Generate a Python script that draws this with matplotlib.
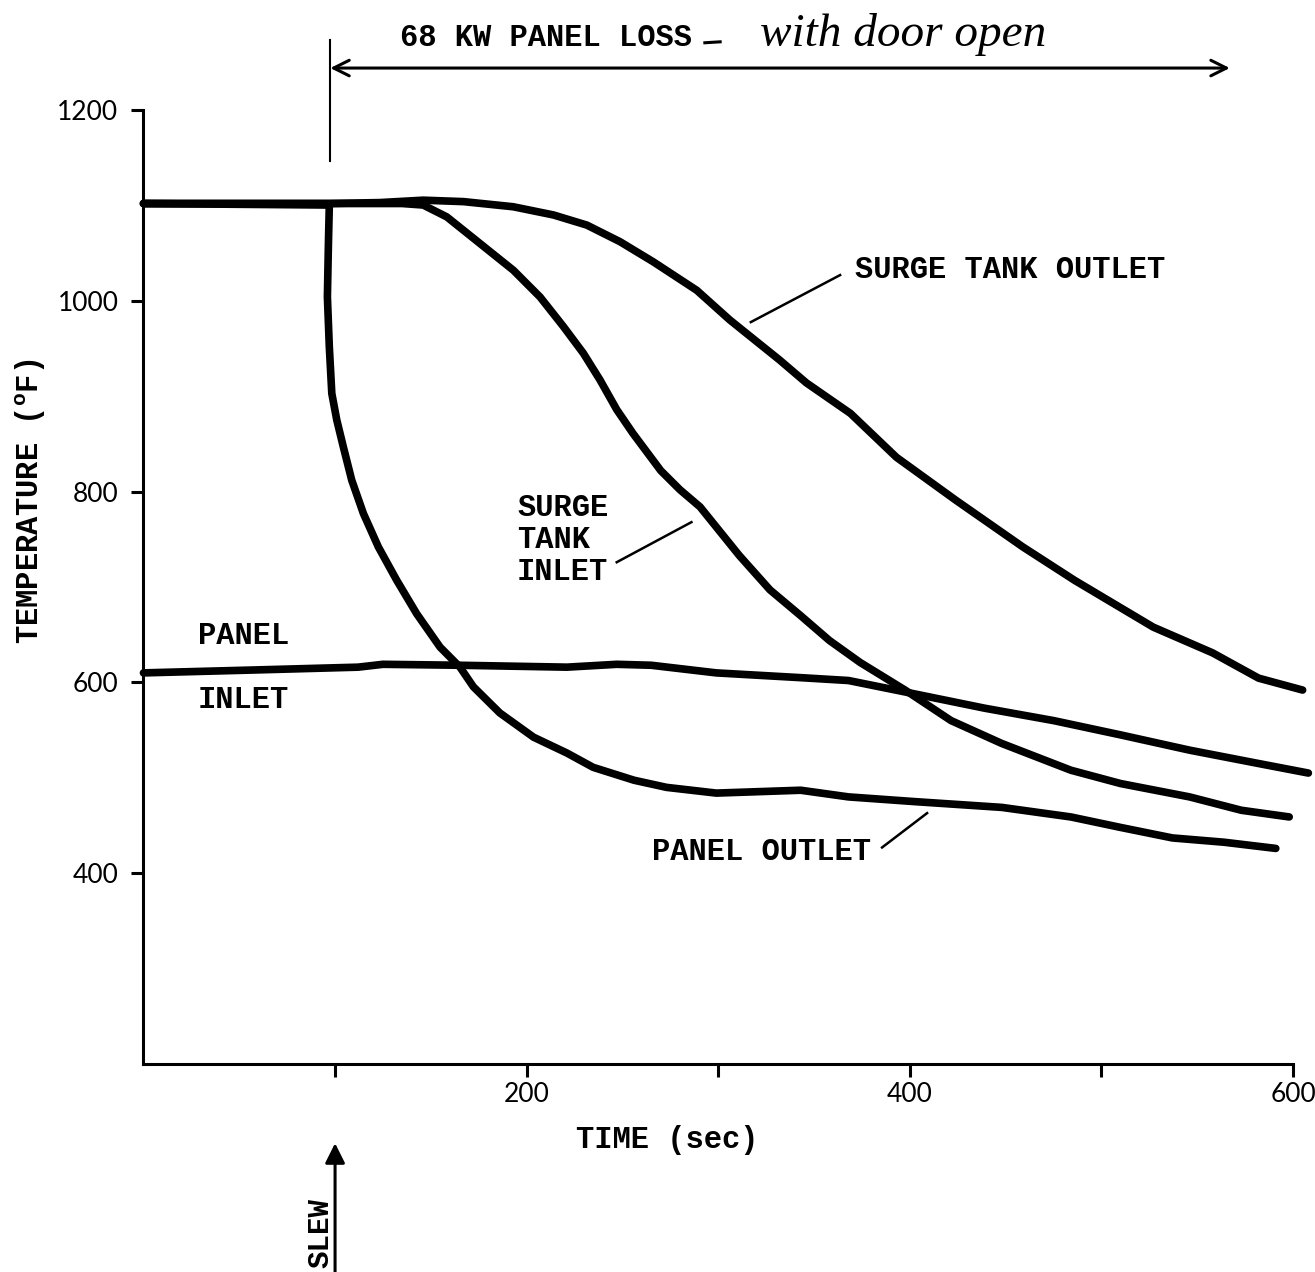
import matplotlib
matplotlib.use("Agg")
import matplotlib.pyplot as plt

# ---- data: temperatures (deg F) versus time (sec) ----
sto_t = [0, 97, 123.5, 146, 167, 193, 214, 231.4, 248.7, 266, 288.8, 306, 332, 346, 369, 393,
         424, 459, 486, 527, 558, 582, 605]
sto_T = [1102, 1102, 1103, 1105.5, 1104, 1098.6, 1090, 1079.4, 1062, 1041, 1011, 980, 938, 914, 882, 836,
         791, 742, 707, 658, 631, 604.5, 592]

sti_t = [0, 97, 135, 146, 158.3, 175.7, 193.1, 207, 219.2, 229.6, 238.3, 247, 255.5, 270, 280, 290.5,
         311, 327, 343, 358, 374, 397.5, 421.5, 448, 484, 510, 546, 573, 598]
sti_T = [1102, 1102, 1102, 1100.4, 1088, 1060, 1032, 1004, 973, 945, 917, 886, 861, 822, 802, 784,
         733, 697, 670, 644, 621, 592, 560, 536, 508, 494, 480, 466, 459]

po_t = [0, 97, 96.5, 96, 97, 98.3, 100.9, 104.3, 108.7, 114.8, 122.6, 132.2, 142.6, 154.8, 165.2,
        172.2, 186, 203.6, 221, 234.7, 256, 273, 299, 343, 368, 403, 448, 484, 510, 537, 564, 591]
po_T = [1102, 1100.4, 1056.7, 1004.3, 951.8, 902.9, 875, 847, 812, 777, 742, 707, 672, 637, 616,
        595.4, 568, 542.6, 526, 511, 497.5, 490, 484, 487, 480, 475, 469, 459, 448, 437, 432.5, 426]

pi_t = [0, 57, 112, 125, 165, 221, 247, 265, 299, 343, 368, 400, 439, 475, 510, 546, 582, 608]
pi_T = [610, 613, 616, 619, 618, 616, 619, 618, 610, 605, 602, 589, 573, 560, 545, 529, 515, 505]

x_ticks = [100, 200, 300, 400, 500, 600]
x_labels = ["", "200", "", "400", "", "600"]
y_ticks = [400, 600, 800, 1000, 1200]
y_labels = ["400", "600", "800", "1000", "1200"]

TYPE = "Liberation Mono"
plt.rcParams["mathtext.fontset"] = "custom"
plt.rcParams["mathtext.rm"] = TYPE
plt.rcParams["mathtext.bf"] = TYPE + ":bold"

fig = plt.figure(figsize=(13.15, 12.72), dpi=100)
ax = fig.add_axes([0.1091, 0.1635, 0.8742, 0.75])
ax.set_xlim(0, 600)
ax.set_ylim(200, 1200)
for s in ("top", "right"):
    ax.spines[s].set_visible(False)
for s in ("left", "bottom"):
    ax.spines[s].set_linewidth(2.2)

ax.set_xticks(x_ticks)
ax.set_xticklabels(x_labels)
ax.set_yticks(y_ticks)
ax.set_yticklabels(y_labels)
ax.tick_params(axis="both", direction="out", length=9, width=2.2, labelsize=19)
ax.tick_params(axis="y", pad=9)
ax.tick_params(axis="x", pad=4)
for lab in ax.get_xticklabels() + ax.get_yticklabels():
    lab.set_fontfamily("Lato")

line_kw = dict(color="black", lw=5.5, solid_capstyle="round", solid_joinstyle="round", clip_on=False)
ax.plot(sto_t, sto_T, **line_kw)
ax.plot(sti_t, sti_T, **line_kw)
ax.plot(po_t, po_T, **line_kw)
ax.plot(pi_t, pi_T, **line_kw)

txt_kw = dict(family=TYPE, fontsize=22, fontweight="bold", color="black", clip_on=False)

# curve labels and leader lines
ax.text(371.4, 1032, "SURGE TANK OUTLET", ha="left", va="center", **txt_kw)
ax.plot([363.6, 317], [1027, 977.7], color="black", lw=1.8, clip_on=False)

ax.text(195, 782.7, "SURGE", ha="left", va="center", **txt_kw)
ax.text(195, 749, "TANK", ha="left", va="center", **txt_kw)
ax.text(195, 715.6, "INLET", ha="left", va="center", **txt_kw)
ax.plot([286, 247], [768, 726], color="black", lw=1.8, clip_on=False)

ax.text(28.5, 648.5, "PANEL", ha="left", va="center", **txt_kw)
ax.text(28.5, 581.4, "INLET", ha="left", va="center", **txt_kw)

ax.text(265.5, 422, "PANEL OUTLET", ha="left", va="center", **txt_kw)
ax.plot([409, 385.5], [463, 427], color="black", lw=1.8, clip_on=False)

# heading with span arrow
ax.text(133.9, 1275.5, "68 KW PANEL LOSS", ha="left", va="center", **txt_kw)
hand_kw = dict(family="Liberation Serif", style="italic", color="black", clip_on=False)
ax.plot([293, 301], [1270.5, 1271.5], color="black", lw=2.2, clip_on=False)
ax.text(321.8, 1279, "with door open", ha="left", va="center", fontsize=34, **hand_kw)
ax.annotate("", xy=(567, 1244), xytext=(97.5, 1244),
            arrowprops=dict(arrowstyle="<->", lw=2.2, color="black", mutation_scale=28,
                            shrinkA=0, shrinkB=0),
            annotation_clip=False)
ax.plot([97.5, 97.5], [1147, 1273], color="black", lw=1.5, clip_on=False)

# slew marker below the time axis
ax.annotate("", xy=(100, 117), xytext=(100, -18),
            arrowprops=dict(arrowstyle="-|>", lw=2.2, color="black", mutation_scale=30,
                            shrinkA=0, shrinkB=0),
            annotation_clip=False)
ax.text(92.2, 22.6, "SLEW", rotation=90, ha="center", va="center",
        family=TYPE, fontsize=21, fontweight="bold", clip_on=False)

# axis titles
ax.set_xlabel("TIME (sec)", family=TYPE, fontsize=22, fontweight="bold")
ax.xaxis.set_label_coords(0.456, -0.080)
ax.xaxis.label.set_va("center")
ax.set_ylabel(r"TEMPERATURE ($\mathbf{^{o}}$F)", family=TYPE, fontsize=22, fontweight="bold")
ax.yaxis.set_label_coords(-0.0978, 0.590)
ax.yaxis.label.set_va("center")

fig.savefig("out.png", dpi=100)
